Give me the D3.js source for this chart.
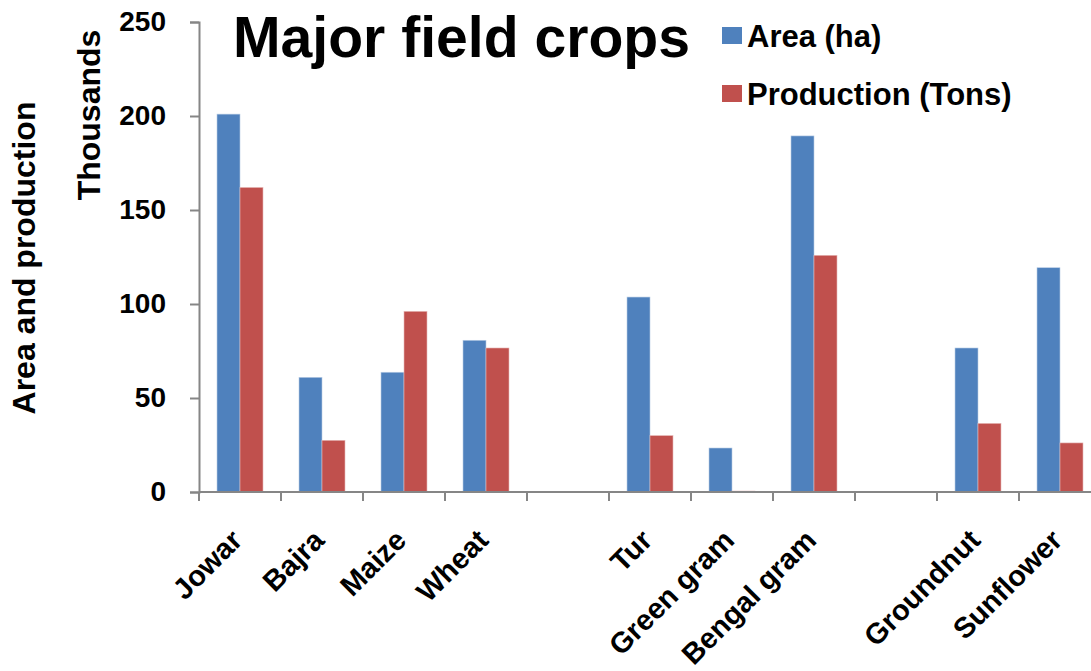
<!DOCTYPE html>
<html>
<head>
<meta charset="utf-8">
<script src="https://cdn.jsdelivr.net/npm/d3@7"></script>
<style>
  html, body { margin: 0; padding: 0; background: #fff; }
  svg { display: block; font-family: "Liberation Sans", Arial, sans-serif; }
</style>
</head>
<body>
<svg id="chart" width="1091" height="671"></svg>
<script>
// Crop names (blank slots separate cereals, pulses and oilseeds)
const crops = ["Jowar", "Bajra", "Maize", "Wheat", "", "Tur", "Green gram", "Bengal gram", "", "Groundnut", "Sunflower"];
// Values in thousands
const area = [201, 61, 63.7, 80.7, null, 103.7, 23.4, 189.4, null, 76.6, 119.3];
const production = [162, 27.5, 96.1, 76.6, null, 30, 0.5, 125.9, null, 36.5, 26.1];
const seriesNames = ["Area (ha)", "Production (Tons)"];
const colors = ["#4F81BD", "#C0504D"];
const yTicks = [0, 50, 100, 150, 200, 250];

const svg = d3.select("#chart");
const axisColor = "#868686";

const x0 = 199, x1 = 1101, yBottom = 492, yTop = 22;

const x = d3.scaleBand().domain(d3.range(crops.length)).range([x0, x1]).paddingInner(0).paddingOuter(0);
const groupW = 46;
const xs = d3.scaleBand().domain([0, 1]).range([0, groupW]);
const y = d3.scaleLinear().domain([0, 250]).range([yBottom, yTop]);

// Bars
const series = [area, production];
series.forEach((vals, si) => {
  svg.append("g").selectAll("rect")
    .data(vals.map((v, i) => ({ v, i })).filter(d => d.v !== null))
    .join("rect")
    .attr("x", d => x(d.i) + (x.bandwidth() - groupW) / 2 + xs(si))
    .attr("y", d => y(d.v))
    .attr("width", xs.bandwidth())
    .attr("height", d => yBottom - y(d.v))
    .attr("fill", colors[si])
    .attr("stroke", si === 0 ? "#b9cde5" : "#e6b9b8")
    .attr("stroke-width", 0.6);
});

// Y axis
const yAxis = d3.axisLeft(y).tickValues(yTicks).tickSize(9).tickPadding(24).tickFormat(d3.format("d"));
const gy = svg.append("g").attr("transform", `translate(${x0},0)`).call(yAxis);
gy.select(".domain").attr("stroke", axisColor).attr("stroke-width", 2);
gy.selectAll(".tick line").attr("stroke", axisColor).attr("stroke-width", 2);
gy.selectAll(".tick text")
  .attr("fill", "#000").attr("font-size", 28).attr("font-weight", "bold")
  .attr("font-family", "Liberation Sans, Arial, sans-serif");

// X axis: tick marks at category boundaries
const boundaries = d3.range(crops.length + 1).map(i => x0 + i * x.step());
svg.append("line")
  .attr("x1", x0).attr("x2", x1).attr("y1", yBottom).attr("y2", yBottom)
  .attr("stroke", axisColor).attr("stroke-width", 2);
svg.append("g").selectAll("line")
  .data(boundaries).join("line")
  .attr("x1", d => d).attr("x2", d => d)
  .attr("y1", yBottom).attr("y2", yBottom + 9)
  .attr("stroke", axisColor).attr("stroke-width", 2);

// Category labels rotated -45°
svg.append("g").selectAll("text")
  .data(crops.map((c, i) => ({ c, i })).filter(d => d.c))
  .join("text")
  .attr("transform", d => `translate(${x(d.i) + x.bandwidth() / 2 + 4},${yBottom + 50}) rotate(-45)`)
  .attr("text-anchor", "end")
  .attr("font-size", 29).attr("font-weight", "bold").attr("fill", "#000")
  .text(d => d.c);

// Axis titles
svg.append("text")
  .attr("transform", "translate(100,115) rotate(-90)")
  .attr("text-anchor", "middle")
  .attr("font-size", 32).attr("font-weight", "bold")
  .text("Thousands");
svg.append("text")
  .attr("transform", "translate(35,258) rotate(-90)")
  .attr("text-anchor", "middle")
  .attr("font-size", 32).attr("font-weight", "bold")
  .text("Area and production");

// Title
svg.append("text")
  .attr("x", 233).attr("y", 57)
  .attr("font-size", 57).attr("font-weight", "bold")
  .attr("textLength", 457).attr("lengthAdjust", "spacingAndGlyphs")
  .text("Major field crops");

// Legend
const legend = svg.append("g").selectAll("g")
  .data(seriesNames).join("g")
  .attr("transform", (d, i) => `translate(722,${27 + i * 58})`);
legend.append("rect")
  .attr("width", 20).attr("height", 17)
  .attr("fill", (d, i) => colors[i]);
legend.append("text")
  .attr("x", 25).attr("y", 20)
  .attr("font-size", 31).attr("font-weight", "bold")
  .text(d => d);
</script>
</body>
</html>
